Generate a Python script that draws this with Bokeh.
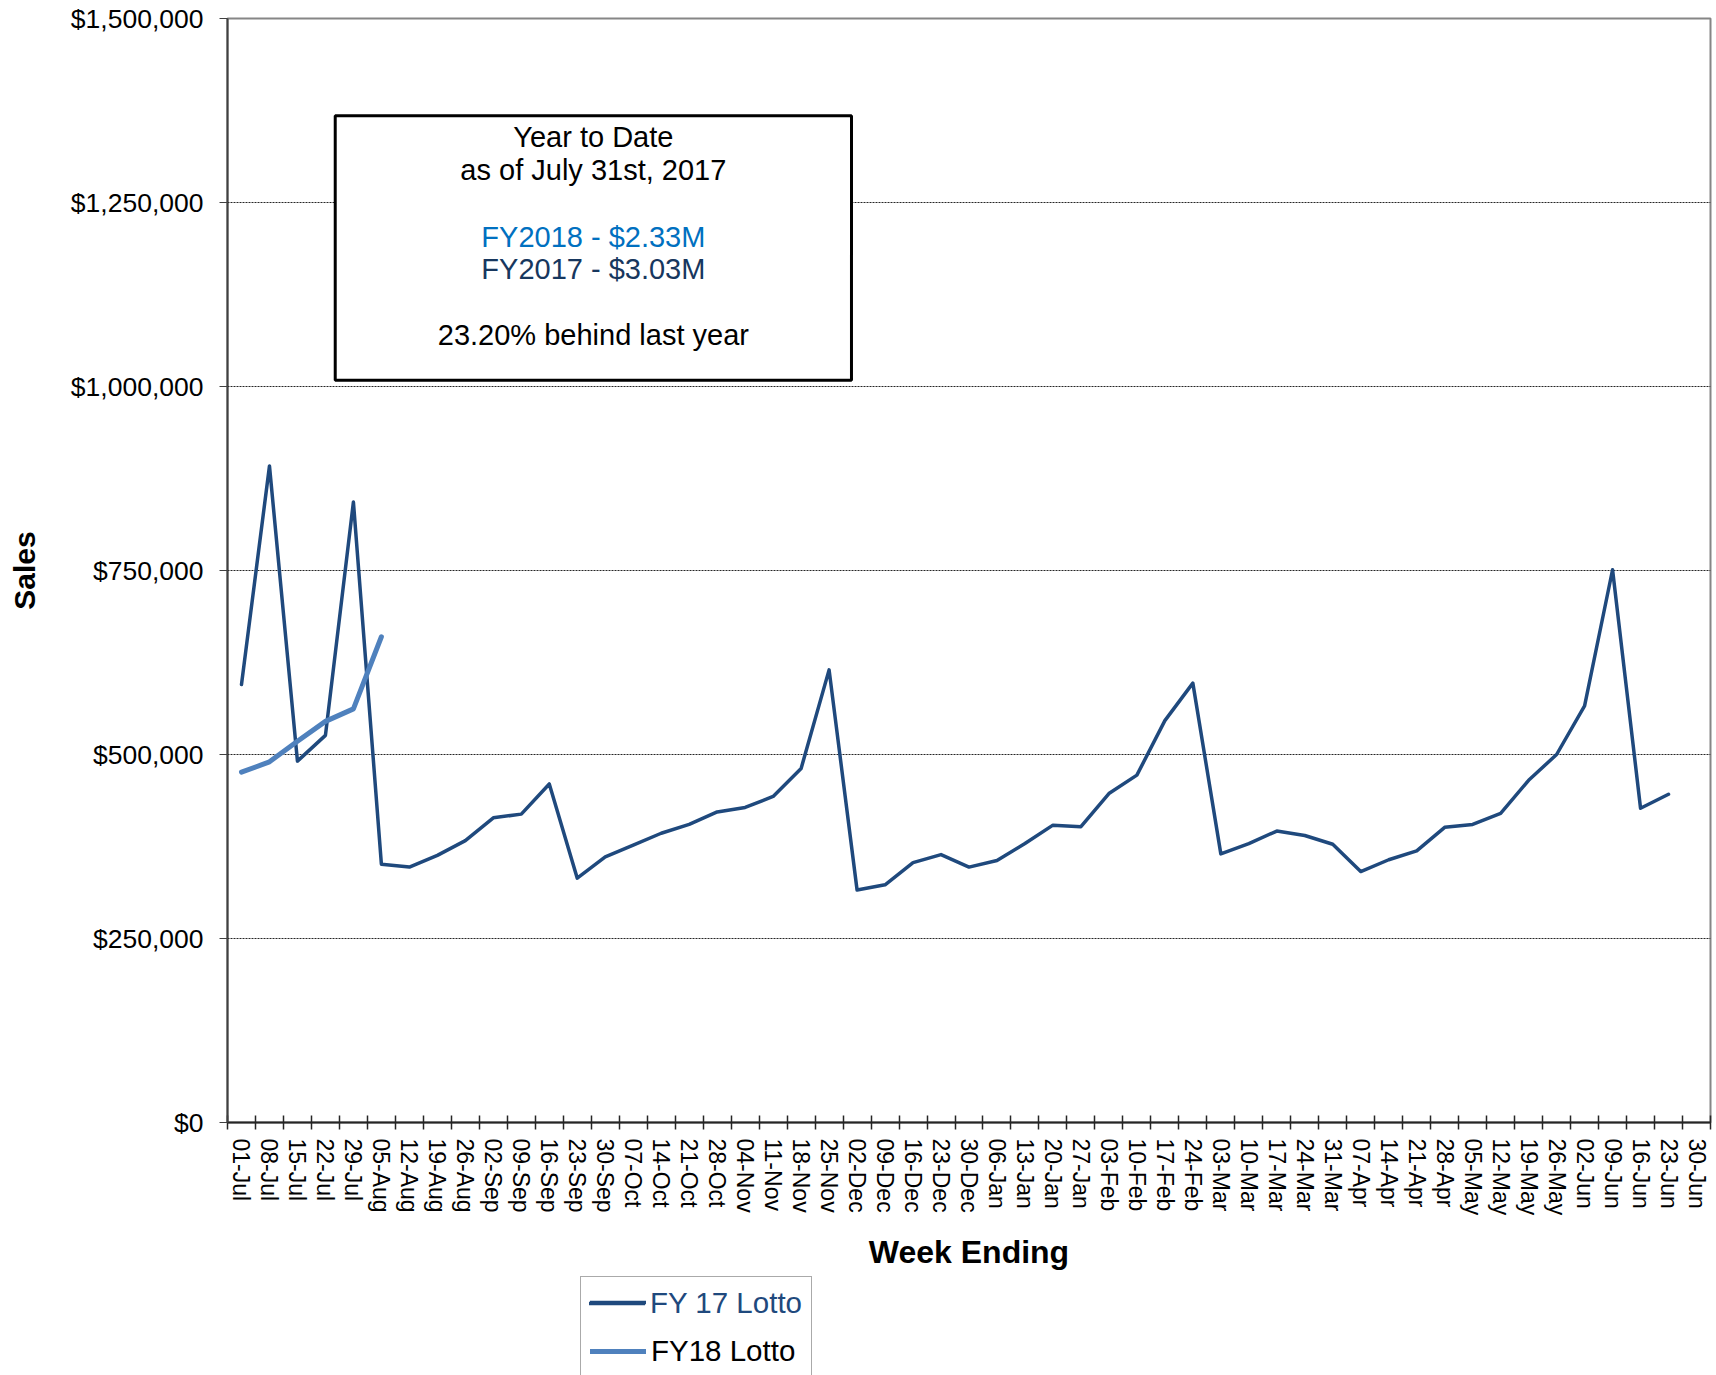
import math
from bokeh.plotting import figure
from bokeh.layouts import column
from bokeh.models import (Range1d, FixedTicker, NumeralTickFormatter, Legend, LegendItem,
                          BoxAnnotation, Label)
from bokeh.embed import file_html
from bokeh.resources import INLINE

# ---------------- data ----------------
weeks = ["01-Jul", "08-Jul", "15-Jul", "22-Jul", "29-Jul",
         "05-Aug", "12-Aug", "19-Aug", "26-Aug",
         "02-Sep", "09-Sep", "16-Sep", "23-Sep", "30-Sep",
         "07-Oct", "14-Oct", "21-Oct", "28-Oct",
         "04-Nov", "11-Nov", "18-Nov", "25-Nov",
         "02-Dec", "09-Dec", "16-Dec", "23-Dec", "30-Dec",
         "06-Jan", "13-Jan", "20-Jan", "27-Jan",
         "03-Feb", "10-Feb", "17-Feb", "24-Feb",
         "03-Mar", "10-Mar", "17-Mar", "24-Mar", "31-Mar",
         "07-Apr", "14-Apr", "21-Apr", "28-Apr",
         "05-May", "12-May", "19-May", "26-May",
         "02-Jun", "09-Jun", "16-Jun", "23-Jun", "30-Jun"]

fy17_sales = [595000, 892000, 491000, 526000, 843000, 351000, 347000, 363000, 383000,
              414000, 419000, 460000, 332000, 361000, 377000, 393000, 405000, 422000,
              428000, 443000, 481000, 615000, 316000, 323000, 353000, 364000, 347000,
              356000, 379000, 404000, 402000, 447000, 472000, 546000, 597000, 365000,
              379000, 396000, 390000, 378000, 341000, 357000, 369000, 401000, 405000,
              420000, 465000, 500000, 566000, 751000, 427000, 446000]

fy18_sales = [476000, 490000, 518000, 545000, 562000, 660000]

y_ticks = [0, 250000, 500000, 750000, 1000000, 1250000, 1500000]

series_names = ["FY 17 Lotto", "FY18 Lotto"]

box_lines = ["Year to Date", "as of July 31st, 2017",
             "FY2018 - $2.33M", "FY2017 - $3.03M",
             "23.20% behind last year"]

FONT = "Liberation Sans"
C17 = "#1F497D"
C18 = "#4F81BD"
W17 = 3.5
W18 = 5

# ---------------- main figure ----------------
p = figure(width=1716, height=1276, output_backend="svg", toolbar_location=None,
           x_range=Range1d(0, len(weeks)), y_range=Range1d(0, 1500000),
           min_border_left=227, min_border_right=6, min_border_top=18,
           min_border_bottom=154, background_fill_color="white",
           border_fill_color="white")

p.outline_line_color = "#868686"
p.outline_line_width = 2

centers = [i + 0.5 for i in range(len(weeks))]

# x axis: labels at category centres, tick marks at category boundaries
xa = p.xaxis[0]
xa.ticker = FixedTicker(ticks=centers, minor_ticks=list(range(len(weeks) + 1)))
xa.major_label_overrides = {c: w for c, w in zip(centers, weeks)}
xa.major_tick_in = 0
xa.major_tick_out = 0
xa.minor_tick_in = 7
xa.minor_tick_out = 7
xa.minor_tick_line_color = "#262626"
xa.minor_tick_line_width = 1.5
xa.axis_line_color = "#262626"
xa.axis_line_width = 2
xa.major_label_orientation = -math.pi / 2
xa.major_label_standoff = 9
xa.major_label_text_font = FONT
xa.major_label_text_font_size = "23px"
xa.major_label_text_color = "black"
xa.axis_label = "Week Ending"
xa.axis_label_text_font = FONT
xa.axis_label_text_font_style = "bold"
xa.axis_label_text_font_size = "32px"
xa.axis_label_text_color = "black"
xa.axis_label_standoff = 16

# y axis
ya = p.yaxis[0]
ya.ticker = FixedTicker(ticks=y_ticks)
ya.formatter = NumeralTickFormatter(format="$0,0")
ya.major_tick_in = 0
ya.major_tick_out = 8
ya.minor_tick_in = 0
ya.minor_tick_out = 0
ya.major_tick_line_color = "#404040"
ya.axis_line_color = "#404040"
ya.axis_line_width = 2
ya.major_label_standoff = 16
ya.major_label_text_font = FONT
ya.major_label_text_font_size = "26.5px"
ya.major_label_text_color = "black"
ya.axis_label = "Sales"
ya.axis_label_text_font = FONT
ya.axis_label_text_font_style = "bold"
ya.axis_label_text_font_size = "30px"
ya.axis_label_text_color = "black"
ya.axis_label_standoff = 27

p.xgrid.visible = False
p.ygrid.grid_line_color = "black"
p.ygrid.grid_line_dash = "2 1"
p.ygrid.grid_line_width = 1
p.ygrid.grid_line_alpha = 0.85

# ---------------- series ----------------
r17 = p.line(centers[:len(fy17_sales)], fy17_sales, line_color=C17, line_width=W17,
             line_join="round", line_cap="round")
r18 = p.line(centers[:len(fy18_sales)], fy18_sales, line_color=C18, line_width=W18,
             line_join="round", line_cap="round")

# ---------------- text box ----------------
box_l, box_r = 3.85, 22.30
box = BoxAnnotation(left=box_l, right=box_r, top=1367900, bottom=1008600,
                    fill_color="white", fill_alpha=1.0,
                    line_color="black", line_width=3, line_alpha=1.0)
p.add_layout(box)

box_cx = (box_l + box_r) / 2
box_y = [1338900, 1293700, 1203100, 1160100, 1069500]
box_colors = ["black", "black", "#0070C0", "#17375E", "black"]
for txt, yy, col in zip(box_lines, box_y, box_colors):
    p.add_layout(Label(x=box_cx, y=yy, text=txt, text_align="center",
                       text_baseline="alphabetic", text_font=FONT,
                       text_font_size="29px", text_color=col))

# ---------------- legend strip (second figure, frame aligned with main) ----------------
q = figure(width=1716, height=99, output_backend="svg", toolbar_location=None,
           x_range=Range1d(0, 1), y_range=Range1d(0, 1),
           x_axis_type=None, y_axis_type=None,
           min_border_left=0, min_border_right=0, min_border_top=0, min_border_bottom=0,
           background_fill_color="white", border_fill_color="white")
q.outline_line_color = None
q.xgrid.visible = False
q.ygrid.visible = False

# same series, drawn outside this strip's visible y-range: only their legend samples show
k17 = q.line(centers[:len(fy17_sales)], fy17_sales, line_color=C17, line_width=W17,
             line_cap="round")
k18 = q.line(centers[:len(fy18_sales)], fy18_sales, line_color=C18, line_width=W18,
             line_cap="round")

common = dict(padding=9, spacing=16, glyph_width=56, glyph_height=32,
              label_height=32, label_width=151, label_standoff=5,
              label_text_font=FONT, label_text_font_size="29.5px", margin=0)

legA = Legend(items=[LegendItem(label=" ", renderers=[k17]),
                     LegendItem(label=series_names[1], renderers=[k18])],
              location=(353, -3), label_text_color="black",
              border_line_color="#555555", border_line_width=1,
              background_fill_color="white", background_fill_alpha=1.0, **common)
legB = Legend(items=[LegendItem(label=series_names[0], renderers=[k17])],
              location=(353, 46), label_text_color=C17,
              border_line_alpha=0.0, background_fill_alpha=0.0, **common)
q.add_layout(legA, "center")
q.add_layout(legB, "center")

layout = column(p, q, spacing=0)
open("out.html", "w").write(file_html(layout, INLINE))
